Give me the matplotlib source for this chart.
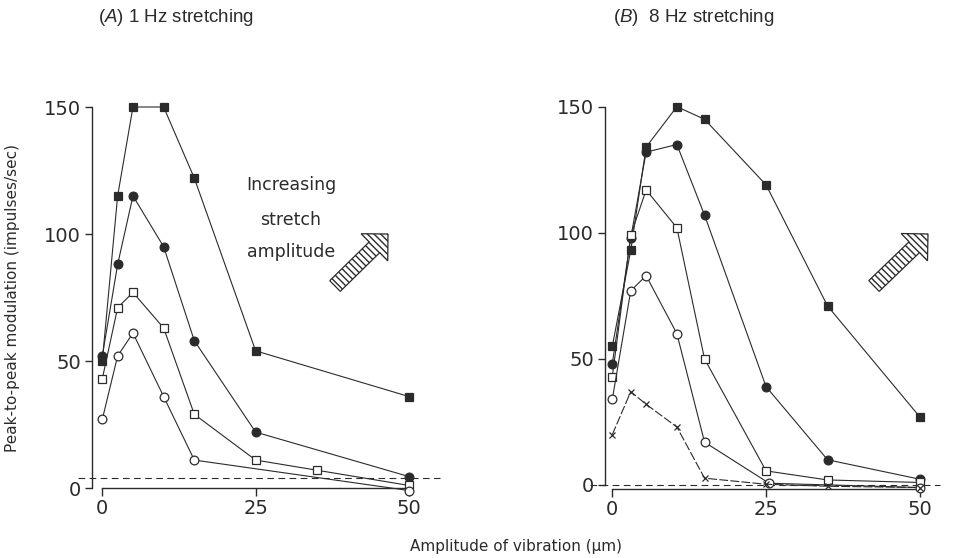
import numpy as np
import matplotlib
matplotlib.use("Agg")
import matplotlib.pyplot as plt
from matplotlib.patches import FancyArrow

plt.rcParams['font.family'] = ['DejaVu Sans']
plt.rcParams['mathtext.fontset'] = 'custom'
plt.rcParams['mathtext.it'] = 'Liberation Sans:italic'
plt.rcParams['mathtext.rm'] = 'Liberation Sans'
plt.rcParams['hatch.linewidth'] = 1.0

ink = '#2b2b2b'

# panel A: 1 Hz stretching
a_fsq_x = [0, 2.5, 5, 10, 15, 25, 50]
a_fsq = [50, 115, 150, 150, 122, 54, 36]
a_fci_x = [0, 2.5, 5, 10, 15, 25, 50]
a_fci = [52, 88, 115, 95, 58, 22, 4.5]
a_osq_x = [0, 2.5, 5, 10, 15, 25, 35, 50]
a_osq = [43, 71, 77, 63, 29, 11, 7, 1]
a_oci_x = [0, 2.5, 5, 10, 15, 50]
a_oci = [27, 52, 61, 36, 11, -1]
a_thresh = 4

# panel B: 8 Hz stretching
b_x = [0, 3, 5.5, 10.5, 15, 25, 35, 50]
b_fsq = [55, 93, 134, 150, 145, 119, 71, 27]
b_fci = [48, 98, 132, 135, 107, 39, 10, 2.3]
b_osq = [43, 99, 117, 102, 50, 5.6, 2, 1]
b_oci_x = [0, 3, 5.5, 10.5, 15, 25.5, 50]
b_oci = [34, 77, 83, 60, 17, 0.7, -1]
b_crs = [20, 37, 32, 23, 2.7, 0.3, -0.5, -1]
b_thresh = 0

W, H = 962, 558
fig = plt.figure(figsize=(W / 100, H / 100), dpi=100)


def px_axes(left, right, top, bottom):
    return fig.add_axes([left / W, 1 - bottom / H, (right - left) / W, (bottom - top) / H])


def style(ax, xspine_y):
    ax.spines['top'].set_visible(False)
    ax.spines['right'].set_visible(False)
    ax.spines['left'].set_bounds(0, 150)
    ax.spines['bottom'].set_bounds(0, 50)
    ax.spines['bottom'].set_position(('data', xspine_y))
    for s in ('left', 'bottom'):
        ax.spines[s].set_color(ink)
        ax.spines[s].set_linewidth(1.0)
    ax.set_xticks([0, 25, 50])
    ax.set_yticks([0, 50, 100, 150])
    ax.tick_params(axis='y', length=5, width=1.0, color=ink, labelcolor=ink,
                   labelsize=14, pad=3)
    ax.tick_params(axis='x', length=6, width=1.0, color=ink, labelcolor=ink,
                   labelsize=14, pad=2)
    ax.patch.set_visible(False)


def draw(ax, x, y, marker, face, ms=6.3, ls='-'):
    ax.plot(x, y, color=ink, lw=0.8, ls=ls, marker=marker, ms=ms,
            mfc=face, mec=ink, mew=0.9, clip_on=False, zorder=3)


# panel A axes: x0 at 102.3px, 6.134 px/unit; y0 at 488px, 2.54 px/unit
axA = px_axes(102.3 - 1.7 * 6.134, 102.3 + 55 * 6.134, 488 - 155 * 2.54, 488 + 3 * 2.54)
axA.set_xlim(-1.7, 55)
axA.set_ylim(-3, 155)
style(axA, 0)
axA.plot([-4, 55.1], [a_thresh, a_thresh], color=ink, lw=0.8, ls=(0, (6, 4)), clip_on=False)
draw(axA, a_fsq_x, a_fsq, 's', ink)
draw(axA, a_fci_x, a_fci, 'o', ink)
draw(axA, a_osq_x, a_osq, 's', 'white')
draw(axA, a_oci_x, a_oci, 'o', 'white')

# panel B axes: x0 at 612.3px, 6.15 px/unit; y0 at 485px, 2.522 px/unit
axB = px_axes(612.3 - 1.2 * 6.15, 612.3 + 55 * 6.15, 485 - 155 * 2.522, 485 + 4 * 2.522)
axB.set_xlim(-1.2, 55)
axB.set_ylim(-4, 155)
style(axB, -1.6)
axB.plot([-3.6, 53.3], [b_thresh, b_thresh], color=ink, lw=0.8, ls=(0, (6, 4)), clip_on=False)
draw(axB, b_x, b_fsq, 's', ink)
draw(axB, b_x, b_fci, 'o', ink)
draw(axB, b_x, b_osq, 's', 'white')
draw(axB, b_oci_x, b_oci, 'o', 'white')
draw(axB, b_x, b_crs, 'x', 'none', ms=4, ls=(0, (8, 2)))

# titles and labels
fig.text(98 / W, 1 - 18 / H, r'($\it{A}$) 1 Hz stretching', fontsize=13.5, color=ink,
         family='Liberation Sans', va='center', ha='left')
fig.text(613 / W, 1 - 18 / H, r'($\it{B}$)  8 Hz stretching', fontsize=13.5, color=ink,
         family='Liberation Sans', va='center', ha='left')
fig.text(13 / W, 1 - 298 / H, 'Peak-to-peak modulation (impulses/sec)', rotation=90,
         fontsize=11, color=ink, va='center', ha='center')
fig.text(516 / W, 1 - 546 / H, 'Amplitude of vibration (\u03bcm)', fontsize=11,
         color=ink, va='center', ha='center')

for yy, s in zip([185, 220, 252], ['Increasing', 'stretch', 'amplitude']):
    fig.text(291 / W, 1 - yy / H, s, fontsize=12.5, color=ink, va='center', ha='center')

# hatched arrows, drawn in inches so that they keep a 45 degree angle
for tx, ty, hx, hy in [(335, 286, 388, 234), (874, 286, 928, 234)]:
    x0, y0 = tx / 100, (H - ty) / 100
    dx, dy = (hx - tx) / 100, (ty - hy) / 100
    arr = FancyArrow(x0, y0, dx, dy, width=0.15, head_width=0.38, head_length=0.19,
                     length_includes_head=True, transform=fig.dpi_scale_trans,
                     facecolor='white', edgecolor=ink, lw=0.9, hatch='\\\\\\\\\\')
    fig.add_artist(arr)

fig.savefig('out.png', dpi=100, facecolor='white')
